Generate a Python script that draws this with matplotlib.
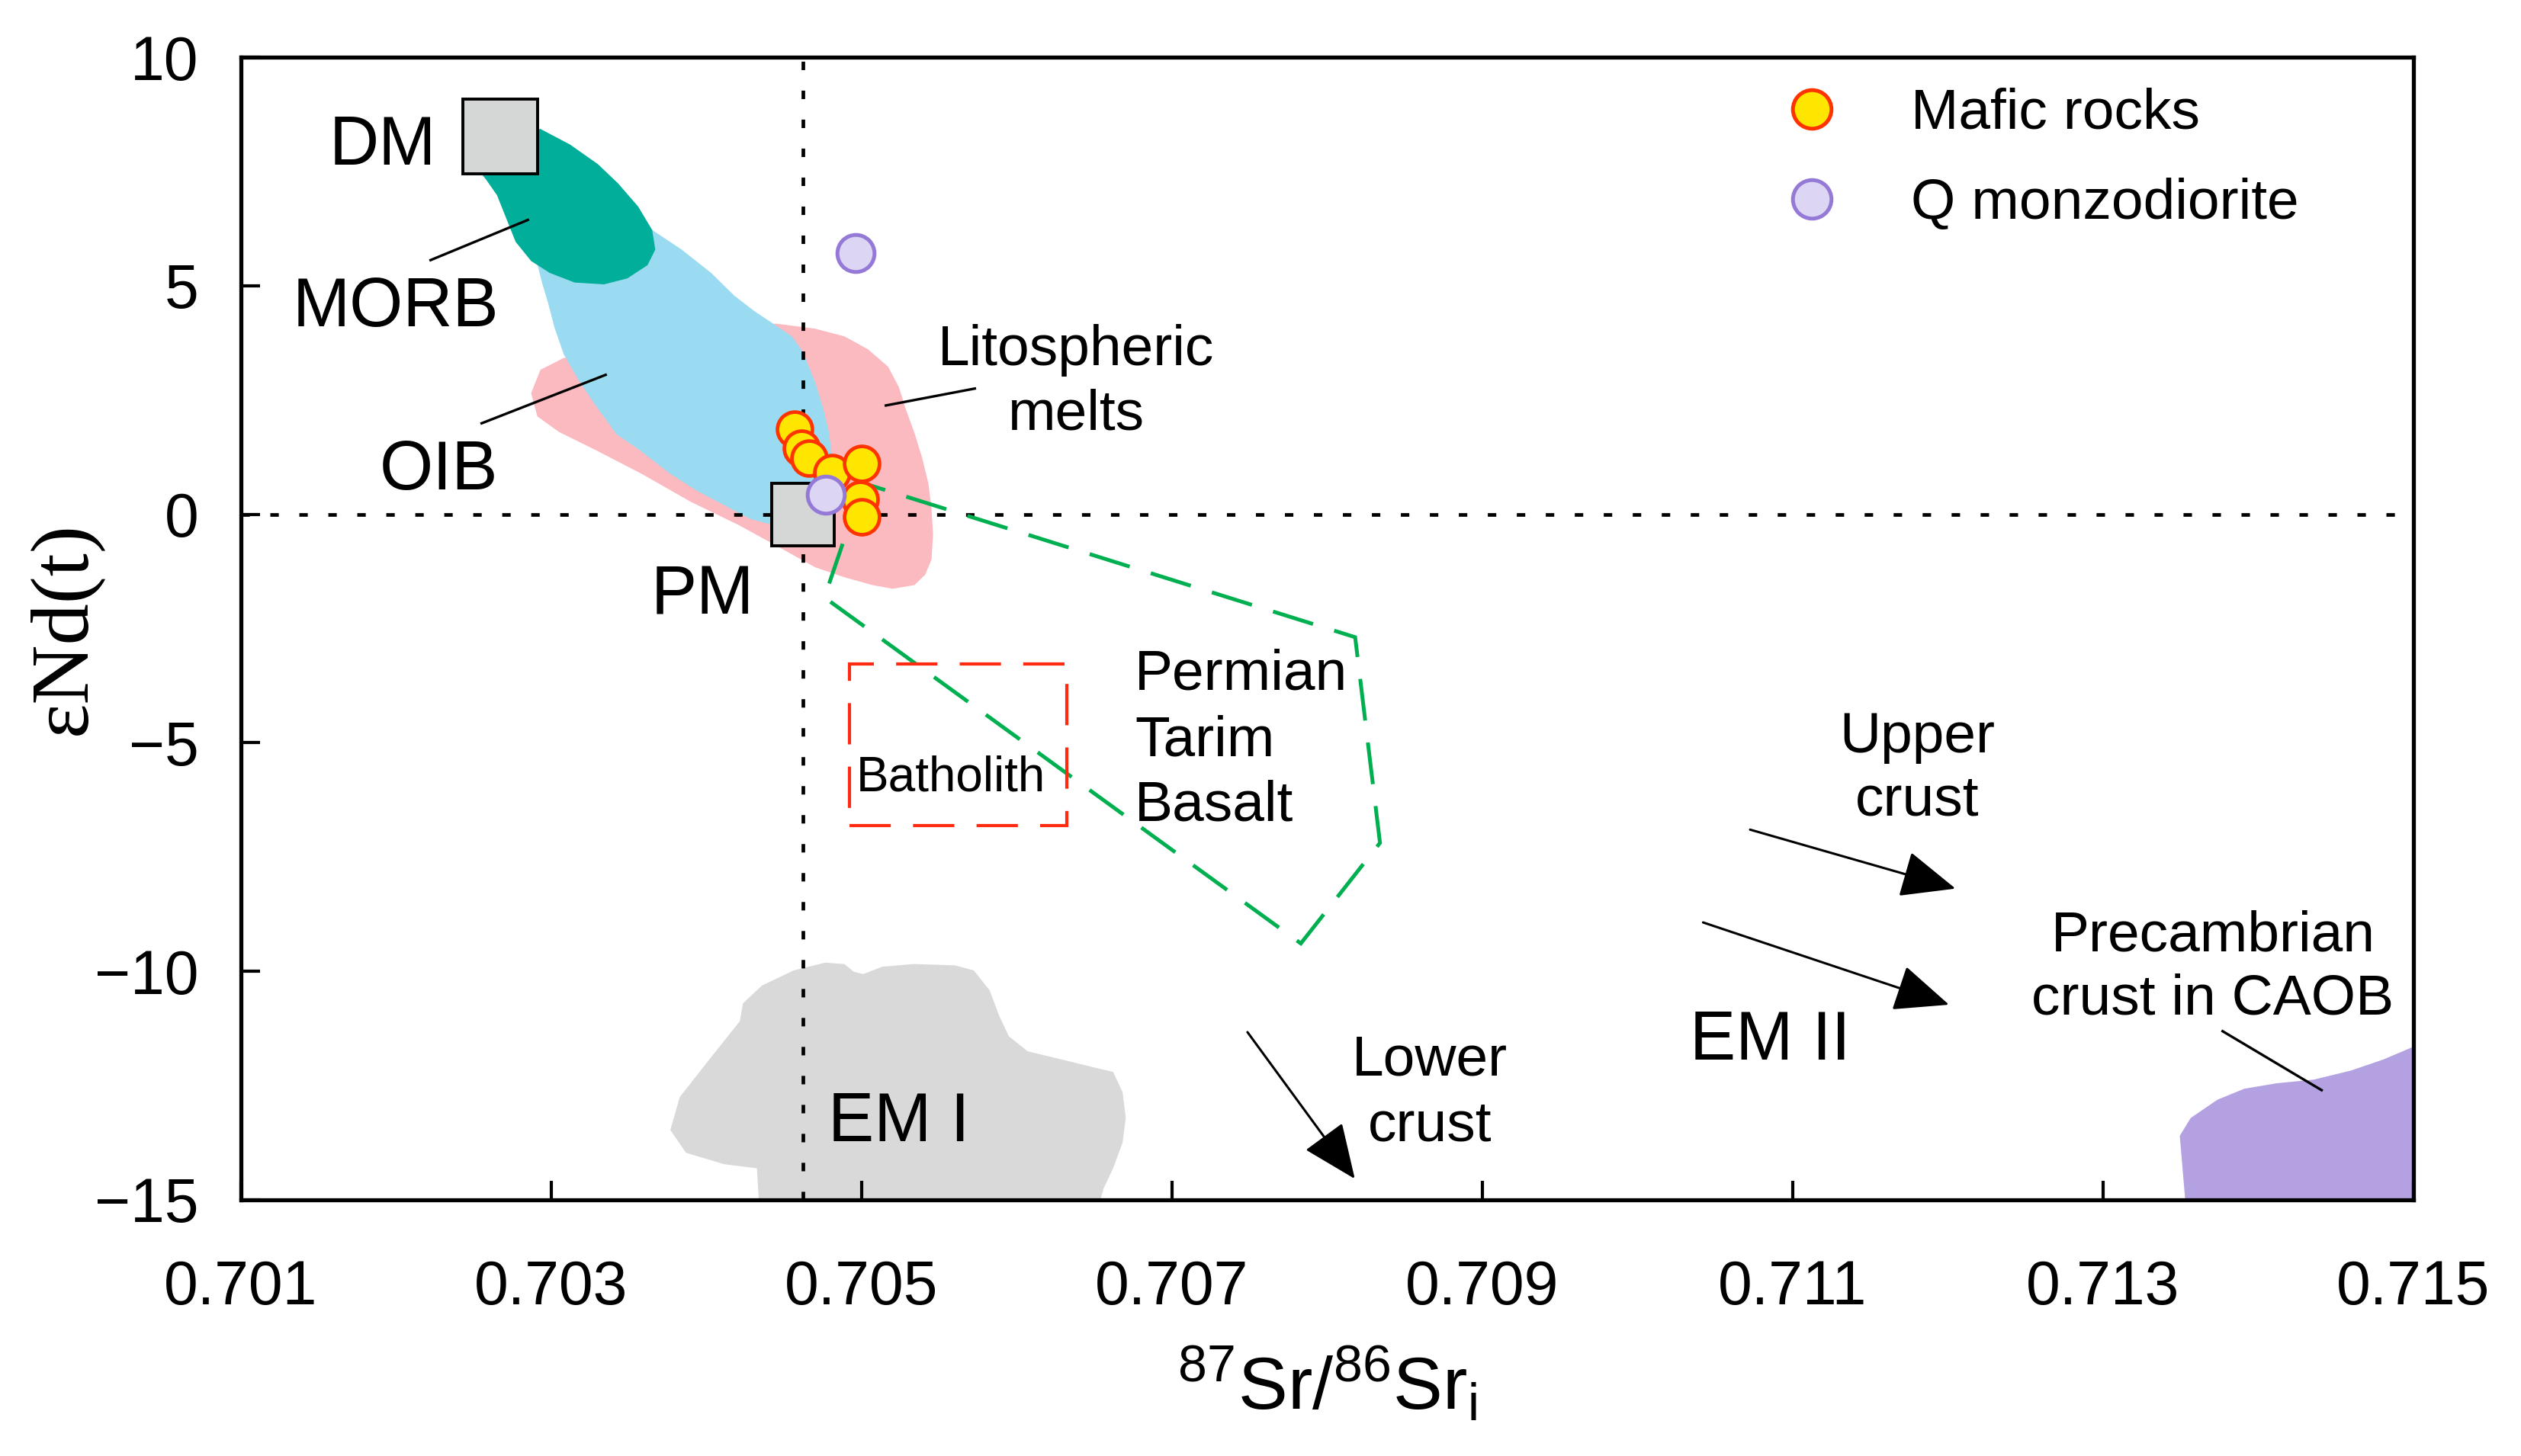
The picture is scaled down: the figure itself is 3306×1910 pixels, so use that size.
import matplotlib
matplotlib.use("Agg")
import matplotlib.pyplot as plt
from matplotlib.patches import Polygon, Rectangle, FancyArrowPatch
from matplotlib.lines import Line2D

plt.rcParams['font.family'] = ['Liberation Sans', 'DejaVu Sans']
plt.rcParams['mathtext.default'] = 'regular'

# ---------------- data ----------------
# samples
mafic_sr = [0.70457, 0.70461, 0.70466, 0.70481, 0.70500, 0.70499, 0.70500]
mafic_nd = [1.86, 1.44, 1.22, 0.91, 1.11, 0.33, -0.06]
qmd_sr = [0.70496, 0.70477]
qmd_nd = [5.72, 0.43]

# mantle end-members
dm_sr, dm_nd = 0.70267, 8.26
pm_sr, pm_nd = 0.70462, 0.0
bse_sr = 0.70462
chur_nd = 0.0

# fields (Sr, Nd)
morb_sr = [0.70293, 0.70312, 0.70330, 0.70343, 0.70356, 0.70365, 0.70367, 0.70362, 0.70349,
           0.70334, 0.70315, 0.70299, 0.70287, 0.70277, 0.70271, 0.70265, 0.70258, 0.70254,
           0.70250, 0.70270]
morb_nd = [8.43, 8.09, 7.66, 7.24, 6.73, 6.22, 5.79, 5.45, 5.16,
           5.03, 5.07, 5.28, 5.54, 5.96, 6.47, 6.98, 7.32, 7.49,
           7.80, 8.30]

oib_sr = [0.70290, 0.70320, 0.70365, 0.70384, 0.70403, 0.70418, 0.70431, 0.70443, 0.70455,
          0.70462, 0.70470, 0.70475, 0.70479, 0.70481, 0.70481, 0.70470, 0.70440, 0.70428,
          0.70413, 0.70394, 0.70376, 0.70357, 0.70342, 0.70330, 0.70318, 0.70308, 0.70302,
          0.70298, 0.70294]
oib_nd = [5.60, 6.20, 6.22, 5.79, 5.28, 4.78, 4.44, 4.17, 3.89,
          3.56, 2.89, 2.34, 1.78, 1.23, 0.67, 0.20, -0.21, -0.10,
          0.17, 0.51, 0.90, 1.40, 1.75, 2.31, 2.91, 3.50, 4.09,
          4.61, 5.07]

lith_sr = [0.70445, 0.70470, 0.70489, 0.70504, 0.70517, 0.70524, 0.70528, 0.70534, 0.70539,
           0.70543, 0.70545, 0.70546, 0.70545, 0.70541, 0.70534, 0.70520, 0.70507, 0.70489,
           0.70470, 0.70451, 0.70421, 0.70390, 0.70359, 0.70330, 0.70305, 0.70291, 0.70287,
           0.70293, 0.70308, 0.70380, 0.70420]
lith_nd = [4.17, 4.06, 3.89, 3.61, 3.23, 2.78, 2.34, 1.78, 1.23,
           0.67, 0.12, -0.44, -0.99, -1.32, -1.55, -1.63, -1.55, -1.38,
           -1.16, -0.80, -0.24, 0.27, 0.87, 1.38, 1.80, 2.14, 2.65,
           3.16, 3.42, 3.50, 4.10]

tarim_sr = [0.70501, 0.70476, 0.70783, 0.70834, 0.70818]
tarim_nd = [0.68, -1.82, -9.39, -7.19, -2.69]

batholith_sr = [0.70492, 0.70632]
batholith_nd = [-6.81, -3.28]

em1_sr = [0.704337, 0.704325, 0.704113, 0.703868, 0.703767, 0.703828, 0.704032, 0.704215,
          0.704235, 0.704358, 0.704562, 0.704765, 0.704888, 0.704949, 0.705010, 0.705132,
          0.705336, 0.705601, 0.705723, 0.705825, 0.705887, 0.705948, 0.706070, 0.706314,
          0.706518, 0.706620, 0.706681, 0.706702, 0.706681, 0.706620, 0.706559, 0.706538]
em1_nd = [-15.0, -14.31, -14.22, -13.97, -13.47, -12.75, -11.87, -11.09,
          -10.70, -10.31, -9.98, -9.81, -9.84, -10.01, -10.06, -9.90,
          -9.84, -9.87, -9.98, -10.42, -10.98, -11.42, -11.75, -11.95,
          -12.12, -12.20, -12.64, -13.20, -13.75, -14.31, -14.75, -15.0]

caob_sr = [0.713529, 0.713494, 0.713564, 0.713736, 0.713909, 0.714116, 0.714357, 0.714598,
           0.714805, 0.715, 0.715]
caob_nd = [-15.0, -13.60, -13.21, -12.81, -12.57, -12.45, -12.37, -12.17,
           -11.93, -11.65, -15.0]

# trend arrows (tail Sr, tail Nd, tip Sr, tip Nd)
arrow_tail_sr = [0.710725, 0.710422, 0.707486]
arrow_tail_nd = [-6.90, -8.93, -11.33]
arrow_tip_sr = [0.712049, 0.712007, 0.708178]
arrow_tip_nd = [-8.19, -10.73, -14.54]

xticks = [0.701, 0.703, 0.705, 0.707, 0.709, 0.711, 0.713, 0.715]
xticklabels = ['0.701', '0.703', '0.705', '0.707', '0.709', '0.711', '0.713', '0.715']
yticks = [10, 5, 0, -5, -10, -15]
yticklabels = ['10', '5', '0', '\u22125', '\u221210', '\u221215']

# ---------------- figure ----------------
fig = plt.figure(figsize=(16.53, 9.55), dpi=200)
ax = fig.add_axes([0.09558, 0.17592, 0.95735 - 0.09558, 0.96073 - 0.17592])
ax.set_xlim(0.701, 0.715)
ax.set_ylim(-15, 10)

def poly(xs, ys, color, z):
    ax.add_patch(Polygon(list(zip(xs, ys)), closed=True, facecolor=color,
                         edgecolor='none', zorder=z))

poly(lith_sr, lith_nd, '#FBB9C0', 1.0)
poly(oib_sr, oib_nd, '#9BDBF1', 1.1)
poly(morb_sr, morb_nd, '#00AE9A', 1.2)
poly(em1_sr, em1_nd, '#D9D9D9', 1.0)
poly(caob_sr, caob_nd, '#B4A1E1', 1.0)

# reference lines
ax.axvline(bse_sr, color='black', lw=1.7, ls=(0, (2.35, 5.7)), zorder=1.5)
ax.axhline(chur_nd, color='black', lw=1.7, ls=(0, (2.35, 5.7)), zorder=1.5)

# Permian Tarim basalt field
ax.add_patch(Polygon(list(zip(tarim_sr, tarim_nd)), closed=True, facecolor='none',
                     edgecolor='#00B050', lw=1.8, ls=(0, (11, 5.8)), zorder=2))
# Batholith box
ax.add_patch(Rectangle((batholith_sr[0], batholith_nd[0]),
                       batholith_sr[1] - batholith_sr[0], batholith_nd[1] - batholith_nd[0],
                       facecolor='none', edgecolor='#FF2A10', lw=1.5, ls=(0, (13, 7)), zorder=2))

# leader lines
for (x0, y0, x1, y1) in [(0.702222, 5.56, 0.702849, 6.44),
                         (0.702551, 1.99, 0.703350, 3.05),
                         (0.705156, 2.38, 0.705729, 2.75),
                         (0.713770, -11.31, 0.714408, -12.60)]:
    ax.plot([x0, x1], [y0, y1], color='black', lw=1.2, zorder=2.2)

# arrows
for xs, ys, xe, ye in zip(arrow_tail_sr, arrow_tail_nd, arrow_tip_sr, arrow_tip_nd):
    ax.add_patch(FancyArrowPatch((xs, ys), (xe, ye),
                                 arrowstyle='-|>,head_length=22.7,head_width=9.7',
                                 mutation_scale=1, shrinkA=0, shrinkB=0,
                                 color='black', lw=1.1, zorder=2.5))

# end-member squares
ax.plot([dm_sr], [dm_nd], ls='none', marker='s', ms=35, mfc='#D5D7D7', mec='black', mew=1.4, zorder=3)
ax.plot([pm_sr], [pm_nd], ls='none', marker='s', ms=29.5, mfc='#D5D7D7', mec='black', mew=1.4, zorder=3)

# samples
ax.plot(mafic_sr, mafic_nd, ls='none', marker='o', ms=16.5, mfc='#FFE600', mec='#FF3300', mew=1.7, zorder=4)
ax.plot(qmd_sr, qmd_nd, ls='none', marker='o', ms=17.5, mfc='#DCD5F3', mec='#9479D6', mew=1.8, zorder=5)

# labels
big = 32.5
mid = 27
def lab(x, y, s, size, ha='center'):
    ax.text(x, y, s, fontsize=size, ha=ha, va='baseline', color='black', zorder=6)

lab(0.701914, 7.65, 'DM', big)
lab(0.701995, 4.12, 'MORB', big)
lab(0.702277, 0.54, 'OIB', big)
lab(0.703974, -2.18, 'PM', big)
lab(0.706383, 3.27, 'Litospheric', mid)
lab(0.706383, 1.86, 'melts', mid)
lab(0.706759, -3.84, 'Permian', mid, 'left')
lab(0.706759, -5.28, 'Tarim', mid, 'left')
lab(0.706759, -6.71, 'Basalt', mid, 'left')
lab(0.704966, -6.05, 'Batholith', 23, 'left')
lab(0.704784, -13.72, 'EM I', big, 'left')
lab(0.710335, -11.93, 'EM II', big, 'left')
lab(0.708661, -12.27, 'Lower', mid)
lab(0.708661, -13.71, 'crust', mid)
lab(0.711800, -5.21, 'Upper', mid)
lab(0.711800, -6.59, 'crust', mid)
lab(0.713708, -9.55, 'Precambrian', mid)
lab(0.713708, -10.94, 'crust in CAOB', mid)

# legend
h1 = Line2D([], [], ls='none', marker='o', ms=18.2, mfc='#FFE600', mec='#FF3300', mew=1.8)
h2 = Line2D([], [], ls='none', marker='o', ms=18.2, mfc='#DCD5F3', mec='#9479D6', mew=1.8)
ax.legend([h1, h2], ['Mafic rocks', 'Q monzodiorite'], loc='upper left',
          bbox_to_anchor=(0.7073, 0.9398), bbox_transform=fig.transFigure,
          frameon=False, fontsize=27, handlelength=1.0, handletextpad=1.23,
          labelspacing=0.66, borderpad=0, borderaxespad=0, numpoints=1)

# axes styling
ax.set_xticks(xticks)
ax.set_xticklabels(xticklabels)
ax.set_yticks(yticks)
ax.set_yticklabels(yticklabels)
ax.tick_params(axis='both', direction='in', length=9, width=1.5, labelsize=29)
ax.tick_params(axis='x', pad=28)
ax.tick_params(axis='y', pad=20)
for sp in ax.spines.values():
    sp.set_linewidth(1.9)
    sp.set_zorder(7)

ax.set_xlabel(r'$^{87}$Sr/$^{86}$Sr$_{i}$', fontsize=35)
ax.xaxis.set_label_coords(0.5, -0.128)
ax.set_ylabel('\u03b5Nd(t)', fontsize=39, family=['Liberation Serif', 'DejaVu Serif'])
ax.yaxis.set_label_coords(-0.0635, 0.5)

fig.savefig('out.png', dpi=200, facecolor='white')
